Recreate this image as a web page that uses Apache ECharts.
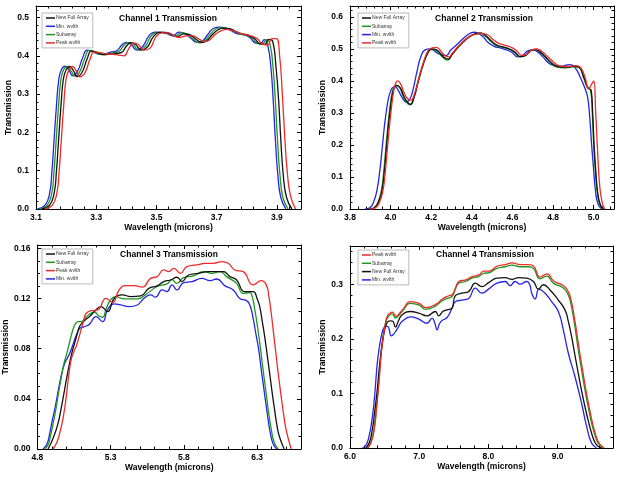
<!DOCTYPE html>
<html>
<head>
<meta charset="utf-8">
<script src="https://cdn.jsdelivr.net/npm/echarts@6/dist/echarts.min.js"></script>
<style>
html,body{margin:0;padding:0;background:#fff;}
#chart{width:624px;height:477px;}
</style>
</head>
<body>
<div id="chart"></div>
<script>
// ---------------- Channel 1 ----------------
const ch1MinX = [3.105,3.13,3.145,3.153,3.16,3.168,3.176,3.185,3.197,3.21,3.222,3.238,3.255,3.27,3.29,3.31,3.33,3.35,3.368,3.385,3.4,3.415,3.435,3.455,3.475,3.495,3.515,3.535,3.555,3.575,3.595,3.615,3.635,3.65,3.67,3.69,3.71,3.73,3.75,3.77,3.79,3.81,3.83,3.845,3.858,3.87,3.88,3.888,3.895,3.903,3.913,3.93];
const ch1MinY = [0,0.01,0.04,0.1,0.18,0.27,0.34,0.365,0.373,0.362,0.348,0.36,0.395,0.415,0.41,0.404,0.405,0.41,0.413,0.428,0.435,0.43,0.415,0.425,0.452,0.462,0.461,0.458,0.452,0.462,0.458,0.445,0.435,0.437,0.455,0.472,0.475,0.472,0.465,0.457,0.455,0.448,0.433,0.432,0.442,0.425,0.37,0.28,0.18,0.09,0.03,0];
const ch1SubX = [3.112,3.137,3.152,3.16,3.167,3.175,3.183,3.192,3.204,3.217,3.229,3.245,3.262,3.277,3.297,3.317,3.337,3.357,3.375,3.392,3.407,3.422,3.442,3.462,3.482,3.502,3.522,3.542,3.562,3.582,3.602,3.622,3.642,3.657,3.677,3.697,3.717,3.737,3.757,3.777,3.797,3.817,3.837,3.852,3.865,3.877,3.887,3.895,3.902,3.91,3.92,3.937];
const ch1SubY = [0,0.01,0.04,0.1,0.18,0.27,0.34,0.364,0.372,0.36,0.347,0.358,0.393,0.414,0.409,0.403,0.404,0.408,0.411,0.427,0.434,0.43,0.415,0.424,0.451,0.461,0.461,0.457,0.451,0.46,0.457,0.444,0.434,0.437,0.454,0.47,0.473,0.471,0.464,0.457,0.454,0.447,0.432,0.431,0.442,0.43,0.37,0.28,0.18,0.09,0.03,0];
const ch1FullX = [3.12,3.145,3.16,3.168,3.175,3.183,3.191,3.2,3.212,3.225,3.237,3.253,3.27,3.285,3.305,3.325,3.345,3.365,3.383,3.4,3.415,3.43,3.45,3.47,3.49,3.51,3.53,3.55,3.57,3.59,3.61,3.63,3.65,3.665,3.685,3.705,3.725,3.745,3.765,3.785,3.805,3.825,3.845,3.86,3.873,3.886,3.897,3.906,3.913,3.921,3.932,3.95];
const ch1FullY = [0,0.01,0.04,0.1,0.18,0.27,0.34,0.363,0.372,0.36,0.346,0.357,0.392,0.413,0.408,0.403,0.404,0.406,0.408,0.425,0.434,0.43,0.415,0.423,0.45,0.461,0.461,0.456,0.45,0.457,0.455,0.444,0.435,0.438,0.455,0.468,0.472,0.47,0.463,0.457,0.454,0.446,0.431,0.43,0.443,0.438,0.37,0.28,0.18,0.09,0.03,0];
const ch1PeakX = [3.129,3.154,3.169,3.177,3.184,3.192,3.2,3.209,3.221,3.234,3.246,3.262,3.279,3.294,3.314,3.334,3.354,3.374,3.392,3.409,3.424,3.439,3.459,3.479,3.499,3.519,3.539,3.559,3.579,3.599,3.619,3.639,3.659,3.674,3.694,3.714,3.734,3.754,3.774,3.794,3.814,3.834,3.854,3.869,3.884,3.898,3.909,3.918,3.926,3.934,3.945,3.962];
const ch1PeakY = [0,0.01,0.04,0.1,0.18,0.27,0.34,0.362,0.372,0.36,0.345,0.355,0.39,0.41,0.408,0.405,0.404,0.402,0.4,0.42,0.433,0.43,0.415,0.42,0.45,0.46,0.46,0.452,0.448,0.452,0.452,0.445,0.437,0.44,0.455,0.465,0.469,0.466,0.46,0.455,0.452,0.445,0.43,0.428,0.445,0.445,0.4,0.3,0.19,0.1,0.035,0];

// ---------------- Channel 2 ----------------
const ch2MinX = [3.875,3.9,3.918,3.933,3.945,3.957,3.968,3.98,3.993,4.008,4.022,4.038,4.055,4.075,4.092,4.11,4.13,4.15,4.172,4.195,4.215,4.238,4.26,4.275,4.295,4.32,4.35,4.38,4.41,4.43,4.455,4.48,4.51,4.54,4.57,4.6,4.625,4.65,4.675,4.7,4.725,4.75,4.78,4.81,4.84,4.87,4.885,4.91,4.935,4.955,4.97,4.98,4.99,5.0,5.01,5.022,5.04];
const ch2MinY = [0,0.005,0.025,0.06,0.11,0.18,0.25,0.31,0.355,0.378,0.382,0.37,0.35,0.335,0.34,0.372,0.43,0.478,0.498,0.5,0.494,0.484,0.48,0.48,0.496,0.51,0.528,0.544,0.552,0.549,0.538,0.52,0.508,0.503,0.497,0.488,0.475,0.48,0.494,0.497,0.49,0.475,0.455,0.447,0.446,0.45,0.451,0.44,0.41,0.38,0.35,0.29,0.2,0.12,0.05,0.015,0];
const ch2SubX = [3.895,3.92,3.94,3.955,3.965,3.975,3.985,3.995,4.005,4.015,4.028,4.045,4.06,4.078,4.095,4.112,4.135,4.158,4.18,4.2,4.22,4.24,4.26,4.28,4.3,4.325,4.355,4.385,4.415,4.44,4.465,4.49,4.52,4.55,4.58,4.61,4.635,4.66,4.685,4.71,4.735,4.76,4.79,4.82,4.85,4.88,4.9,4.925,4.95,4.968,4.985,4.993,5.0,5.008,5.018,5.03,5.045];
const ch2SubY = [0,0.005,0.025,0.06,0.11,0.18,0.25,0.31,0.355,0.378,0.387,0.378,0.355,0.333,0.325,0.345,0.4,0.45,0.485,0.498,0.497,0.485,0.472,0.465,0.48,0.5,0.52,0.536,0.546,0.548,0.54,0.525,0.51,0.505,0.5,0.49,0.475,0.478,0.493,0.497,0.49,0.475,0.455,0.443,0.441,0.442,0.444,0.442,0.41,0.38,0.37,0.3,0.2,0.12,0.05,0.015,0];
const ch2FullX = [3.898,3.923,3.943,3.958,3.968,3.978,3.988,3.998,4.008,4.018,4.031,4.048,4.063,4.081,4.098,4.115,4.138,4.161,4.183,4.203,4.223,4.243,4.263,4.283,4.303,4.328,4.358,4.388,4.418,4.443,4.468,4.493,4.523,4.553,4.583,4.613,4.638,4.663,4.688,4.713,4.738,4.763,4.793,4.823,4.853,4.883,4.903,4.928,4.953,4.971,4.988,4.995,5.002,5.01,5.02,5.032,5.048];
const ch2FullY = [0,0.005,0.025,0.06,0.11,0.18,0.25,0.31,0.355,0.378,0.386,0.378,0.356,0.335,0.327,0.347,0.402,0.452,0.487,0.5,0.498,0.487,0.474,0.468,0.483,0.502,0.522,0.538,0.548,0.55,0.542,0.527,0.512,0.506,0.5,0.49,0.476,0.479,0.494,0.498,0.49,0.475,0.456,0.445,0.443,0.444,0.446,0.443,0.41,0.38,0.37,0.3,0.2,0.12,0.05,0.015,0];
const ch2PeakX = [3.9,3.928,3.948,3.963,3.973,3.983,3.993,4.003,4.013,4.023,4.035,4.05,4.065,4.083,4.1,4.118,4.14,4.163,4.185,4.205,4.225,4.245,4.265,4.285,4.305,4.33,4.36,4.39,4.42,4.448,4.475,4.5,4.53,4.56,4.59,4.62,4.645,4.67,4.695,4.72,4.745,4.77,4.8,4.83,4.86,4.89,4.91,4.935,4.958,4.975,4.99,5.0,5.01,5.02,5.03,5.042,5.055];
const ch2PeakY = [0,0.005,0.025,0.06,0.11,0.18,0.25,0.31,0.36,0.39,0.4,0.39,0.365,0.345,0.34,0.36,0.41,0.46,0.495,0.503,0.505,0.495,0.48,0.475,0.488,0.506,0.525,0.54,0.546,0.548,0.545,0.532,0.518,0.512,0.506,0.495,0.48,0.483,0.497,0.5,0.492,0.478,0.46,0.447,0.445,0.446,0.448,0.442,0.41,0.375,0.39,0.4,0.3,0.17,0.07,0.02,0];

// ---------------- Channel 3 ----------------
const ch3MinX = [4.838,4.865,4.884,4.9,4.917,4.935,4.951,4.968,4.985,5.002,5.019,5.036,5.053,5.07,5.087,5.104,5.121,5.155,5.2,5.245,5.279,5.324,5.369,5.426,5.482,5.527,5.573,5.606,5.652,5.685,5.719,5.753,5.798,5.855,5.923,5.979,6.024,6.081,6.137,6.182,6.228,6.25,6.272,6.29,6.31,6.33,6.35,6.37,6.39,6.41,6.435];
const ch3MinY = [0,0.004,0.0125,0.022,0.031,0.042,0.052,0.061,0.068,0.072,0.076,0.081,0.087,0.092,0.096,0.097,0.0975,0.0995,0.1055,0.1015,0.111,0.1157,0.1148,0.1135,0.1148,0.12,0.1228,0.121,0.1268,0.1255,0.1308,0.1268,0.1326,0.1334,0.136,0.1342,0.1355,0.13,0.1268,0.12,0.1183,0.115,0.105,0.093,0.08,0.062,0.045,0.028,0.013,0.004,0];
const ch3SubX = [4.85,4.875,4.893,4.91,4.925,4.94,4.955,4.97,4.985,5.0,5.015,5.03,5.045,5.06,5.08,5.1,5.12,5.15,5.19,5.22,5.245,5.27,5.3,5.335,5.392,5.482,5.55,5.617,5.685,5.719,5.753,5.798,5.866,5.934,5.991,6.047,6.092,6.16,6.205,6.25,6.268,6.283,6.3,6.318,6.338,6.358,6.378,6.398,6.418,6.445];
const ch3SubY = [0,0.004,0.0125,0.022,0.031,0.042,0.052,0.062,0.07,0.076,0.083,0.09,0.096,0.1,0.1015,0.1015,0.1035,0.107,0.109,0.106,0.105,0.112,0.119,0.1215,0.1196,0.1196,0.124,0.1295,0.1316,0.135,0.132,0.1366,0.138,0.1414,0.14,0.1414,0.1374,0.132,0.124,0.1247,0.121,0.112,0.1,0.085,0.066,0.048,0.03,0.015,0.005,0];
const ch3FullX = [4.872,4.905,4.94,4.963,4.985,5.002,5.019,5.036,5.053,5.07,5.087,5.11,5.132,5.16,5.188,5.234,5.279,5.324,5.381,5.437,5.505,5.561,5.617,5.663,5.708,5.753,5.787,5.832,5.9,5.968,6.036,6.07,6.115,6.16,6.216,6.273,6.3,6.318,6.335,6.352,6.369,6.386,6.403,6.42,6.437,6.453,6.485];
const ch3FullY = [0,0.008,0.02,0.033,0.047,0.058,0.068,0.077,0.084,0.091,0.0975,0.101,0.1034,0.106,0.1095,0.1135,0.1095,0.12,0.1228,0.1215,0.122,0.128,0.13,0.1334,0.1347,0.1369,0.1334,0.1387,0.14,0.1414,0.1414,0.1414,0.1374,0.1347,0.1254,0.1254,0.12,0.1135,0.102,0.0896,0.075,0.0603,0.045,0.031,0.018,0.0098,0];
const ch3PeakX = [4.906,4.935,4.963,4.98,4.997,5.013,5.03,5.047,5.064,5.081,5.098,5.115,5.132,5.166,5.211,5.268,5.313,5.358,5.403,5.46,5.516,5.573,5.617,5.663,5.697,5.731,5.776,5.821,5.889,5.945,6.002,6.058,6.103,6.148,6.205,6.273,6.329,6.363,6.38,6.397,6.414,6.431,6.448,6.465,6.482,6.499,6.533];
const ch3PeakY = [0,0.006,0.018,0.028,0.042,0.058,0.071,0.077,0.0816,0.088,0.095,0.102,0.108,0.1103,0.1108,0.12,0.1167,0.1268,0.1302,0.1302,0.129,0.136,0.1374,0.1427,0.1414,0.144,0.14,0.1454,0.1467,0.148,0.148,0.1494,0.148,0.1427,0.1414,0.1308,0.1342,0.1308,0.122,0.108,0.091,0.0736,0.057,0.0417,0.027,0.015,0];

// ---------------- Channel 4 ----------------
const ch4MinX = [6.178,6.23,6.274,6.31,6.346,6.37,6.394,6.418,6.442,6.466,6.49,6.52,6.547,6.57,6.595,6.625,6.658,6.7,6.754,6.874,6.994,7.114,7.186,7.222,7.258,7.294,7.33,7.402,7.474,7.522,7.618,7.714,7.81,7.906,8.002,8.122,8.242,8.314,8.386,8.458,8.554,8.6,8.626,8.674,8.73,8.818,8.914,9.01,9.082,9.154,9.25,9.346,9.418,9.49,9.562];
const ch4MinY = [0,0.005,0.021,0.045,0.082,0.118,0.155,0.18,0.198,0.212,0.22,0.223,0.2225,0.215,0.2055,0.208,0.213,0.222,0.232,0.24,0.236,0.2285,0.238,0.23,0.2165,0.228,0.2335,0.239,0.256,0.268,0.271,0.274,0.293,0.2835,0.291,0.302,0.305,0.2975,0.305,0.3,0.305,0.298,0.2835,0.273,0.291,0.2835,0.268,0.25,0.2165,0.174,0.131,0.082,0.04,0.009,0];
const ch4FullX = [6.226,6.28,6.322,6.358,6.394,6.418,6.442,6.466,6.49,6.52,6.552,6.585,6.619,6.658,6.7,6.754,6.874,6.994,7.114,7.234,7.282,7.34,7.402,7.474,7.522,7.618,7.714,7.81,7.906,8.002,8.122,8.242,8.338,8.434,8.554,8.65,8.722,8.794,8.89,9.01,9.106,9.154,9.202,9.25,9.298,9.346,9.394,9.442,9.49,9.54,9.586,9.634];
const ch4FullY = [0,0.01,0.0335,0.068,0.107,0.14,0.168,0.192,0.21,0.225,0.232,0.233,0.232,0.2215,0.233,0.244,0.25,0.247,0.242,0.25,0.242,0.25,0.253,0.256,0.279,0.2835,0.2865,0.302,0.2955,0.303,0.311,0.312,0.309,0.312,0.311,0.305,0.291,0.299,0.2895,0.271,0.253,0.232,0.204,0.17,0.137,0.105,0.076,0.05,0.0275,0.01,0.003,0];
const ch4SubX = [6.25,6.3,6.346,6.382,6.418,6.442,6.466,6.49,6.514,6.538,6.562,6.61,6.658,6.7,6.754,6.874,6.994,7.09,7.234,7.33,7.402,7.474,7.52,7.57,7.666,7.762,7.858,7.93,8.002,8.122,8.242,8.338,8.458,8.578,8.65,8.746,8.842,8.938,9.082,9.154,9.19,9.226,9.262,9.298,9.346,9.394,9.442,9.49,9.538,9.586,9.658];
const ch4SubY = [0,0.01,0.0335,0.075,0.125,0.165,0.192,0.213,0.229,0.238,0.242,0.2457,0.238,0.242,0.25,0.265,0.262,0.254,0.26,0.2695,0.274,0.2775,0.29,0.302,0.305,0.311,0.314,0.32,0.321,0.329,0.332,0.335,0.332,0.332,0.329,0.3097,0.315,0.302,0.293,0.28,0.265,0.241,0.212,0.18,0.143,0.107,0.075,0.046,0.024,0.009,0];
const ch4PeakX = [6.255,6.305,6.35,6.386,6.422,6.446,6.47,6.494,6.518,6.542,6.566,6.614,6.662,6.704,6.758,6.878,6.998,7.094,7.238,7.334,7.406,7.478,7.524,7.574,7.67,7.766,7.862,7.934,8.006,8.126,8.246,8.342,8.462,8.582,8.654,8.75,8.846,8.942,9.086,9.158,9.196,9.234,9.272,9.31,9.358,9.406,9.454,9.502,9.55,9.598,9.67];
const ch4PeakY = [0,0.01,0.0335,0.075,0.125,0.165,0.193,0.215,0.232,0.242,0.246,0.249,0.241,0.245,0.253,0.268,0.265,0.257,0.263,0.273,0.278,0.281,0.293,0.305,0.308,0.314,0.317,0.324,0.324,0.333,0.336,0.339,0.336,0.336,0.333,0.313,0.319,0.306,0.297,0.285,0.27,0.245,0.215,0.182,0.145,0.108,0.076,0.047,0.024,0.009,0];

// ---------------- Labels ----------------
const titles = ['Channel 1 Transmission','Channel 2 Transmission','Channel 3 Transmission','Channel 4 Transmission'];
const xAxisName = 'Wavelength (microns)';
const yAxisName = 'Transmission';
const NAME_FULL = 'New Full Array', NAME_MIN = 'Min. wvlth', NAME_SUB = 'Subarray', NAME_PEAK = 'Peak wvlth';
const legendOrder = [
  [NAME_FULL, NAME_MIN, NAME_SUB, NAME_PEAK],
  [NAME_FULL, NAME_SUB, NAME_MIN, NAME_PEAK],
  [NAME_FULL, NAME_SUB, NAME_PEAK, NAME_MIN],
  [NAME_PEAK, NAME_SUB, NAME_FULL, NAME_MIN]
];
// axis ranges [xmin, xmax, xinterval, xdecimals, ymin, ymax, yinterval, ydecimals]
const axisRanges = [
  [3.1, 3.98, 0.2, 1, 0, 0.53, 0.1, 1],
  [3.8, 5.1, 0.2, 1, 0, 0.634, 0.1, 1],
  [4.8, 6.6, 0.5, 1, 0, 0.1626, 0.04, 2],
  [6.0, 9.8, 1.0, 1, 0, 0.37, 0.1, 1]
];
const minorSplits = [[5,5],[5,5],[5,4],[5,5]];

const panelData = [
  {[NAME_FULL]:[ch1FullX,ch1FullY],[NAME_MIN]:[ch1MinX,ch1MinY],[NAME_SUB]:[ch1SubX,ch1SubY],[NAME_PEAK]:[ch1PeakX,ch1PeakY]},
  {[NAME_FULL]:[ch2FullX,ch2FullY],[NAME_MIN]:[ch2MinX,ch2MinY],[NAME_SUB]:[ch2SubX,ch2SubY],[NAME_PEAK]:[ch2PeakX,ch2PeakY]},
  {[NAME_FULL]:[ch3FullX,ch3FullY],[NAME_MIN]:[ch3MinX,ch3MinY],[NAME_SUB]:[ch3SubX,ch3SubY],[NAME_PEAK]:[ch3PeakX,ch3PeakY]},
  {[NAME_FULL]:[ch4FullX,ch4FullY],[NAME_MIN]:[ch4MinX,ch4MinY],[NAME_SUB]:[ch4SubX,ch4SubY],[NAME_PEAK]:[ch4PeakX,ch4PeakY]}
];

// ---------------- Styling / layout ----------------
const colors = {[NAME_FULL]:'#111111',[NAME_MIN]:'#2424e6',[NAME_SUB]:'#1f961f',[NAME_PEAK]:'#ee2a2a'};
const drawOrder = [NAME_MIN, NAME_SUB, NAME_FULL, NAME_PEAK];
const FONT = '"Liberation Sans", Arial, Helvetica, sans-serif';
const grids = [
  {left:36, top:6, width:265, height:203},
  {left:350, top:6, width:264, height:203},
  {left:36, top:245, width:265, height:204},
  {left:350, top:246, width:263, height:202}
];
const titlePos = [[168,19],[484,19],[169,255],[485,255]];
const legendPos = [[42,13],[358,13],[42,249],[358,250]];

const zip = (xs, ys) => xs.map((x, i) => [x, ys[i]]);

const xAxes = [], yAxes = [], series = [], legends = [], graphics = [];
grids.forEach((g, i) => {
  const [xmin, xmax, xint, xdec, ymin, ymax, yint, ydec] = axisRanges[i];
  const [xs, ys] = minorSplits[i];
  const common = {
    gridIndex: i, type: 'value', splitLine: {show: false},
    axisLine: {show: true, onZero: false, lineStyle: {color: '#000', width: 1}},
    axisTick: {show: true, inside: true, length: 4, lineStyle: {color: '#000', width: 1}},
  };
  xAxes.push(Object.assign({}, common, {
    position: 'bottom', min: xmin, max: xmax, interval: xint,
    minorTick: {show: true, splitNumber: xs, length: 2.5, lineStyle: {color: '#000', width: 1}},
    axisLabel: {show: true, showMaxLabel: false, margin: 4, color: '#000', fontSize: 8.5, fontWeight: 'bold', fontFamily: FONT,
      formatter: v => v.toFixed(xdec)},
    name: xAxisName, nameLocation: 'middle', nameGap: 14,
    nameTextStyle: {color: '#000', fontSize: 8.5, fontWeight: 'bold', fontFamily: FONT}
  }));
  xAxes.push(Object.assign({}, common, {
    position: 'top', min: xmin, max: xmax, interval: xint,
    minorTick: {show: true, splitNumber: xs, length: 2.5, lineStyle: {color: '#000', width: 1}},
    axisLabel: {show: false}
  }));
  yAxes.push(Object.assign({}, common, {
    position: 'left', min: ymin, max: ymax, interval: yint,
    minorTick: {show: true, splitNumber: ys, length: 2.5, lineStyle: {color: '#000', width: 1}},
    axisLabel: {show: true, showMaxLabel: false, margin: 7, color: '#000', fontSize: 8.5, fontWeight: 'bold', fontFamily: FONT,
      formatter: v => v.toFixed(ydec)},
    name: yAxisName, nameLocation: 'middle', nameGap: 23,
    nameTextStyle: {color: '#000', fontSize: 8.5, fontWeight: 'bold', fontFamily: FONT}
  }));
  yAxes.push(Object.assign({}, common, {
    position: 'right', min: ymin, max: ymax, interval: yint,
    minorTick: {show: true, splitNumber: ys, length: 2.5, lineStyle: {color: '#000', width: 1}},
    axisLabel: {show: false}
  }));
  drawOrder.forEach(name => {
    const [xArr, yArr] = panelData[i][name];
    series.push({
      name: name, type: 'line', xAxisIndex: i * 2, yAxisIndex: i * 2,
      data: zip(xArr, yArr), symbol: 'none', showSymbol: false,
      smooth: 0.5, clip: true,
      lineStyle: {color: colors[name], width: 1.3}, itemStyle: {color: colors[name]}
    });
  });
  legends.push({
    left: legendPos[i][0], top: legendPos[i][1], orient: 'vertical',
    data: legendOrder[i], icon: 'rect', itemWidth: 9, itemHeight: 1.5, itemGap: 2.3,
    padding: [2, 4, 2, 4], borderColor: '#a8a8a8', borderWidth: 0.8, backgroundColor: '#fff',
    selectedMode: false,
    textStyle: {fontSize: 5, lineHeight: 6, color: '#333', fontFamily: FONT, padding: [0, 0, 0, -4]}
  });
  graphics.push({
    type: 'text', x: titlePos[i][0], y: titlePos[i][1],
    style: {text: titles[i], fill: '#000', font: 'bold 8.5px ' + FONT, textAlign: 'center', textVerticalAlign: 'middle'}
  });
});

const chart = echarts.init(document.getElementById('chart'), null, {renderer: 'canvas'});
chart.setOption({
  animation: false,
  backgroundColor: '#fff',
  grid: grids.map(g => Object.assign({containLabel: false}, g)),
  xAxis: xAxes,
  yAxis: yAxes,
  legend: legends,
  series: series,
  graphic: graphics
});
</script>
</body>
</html>
